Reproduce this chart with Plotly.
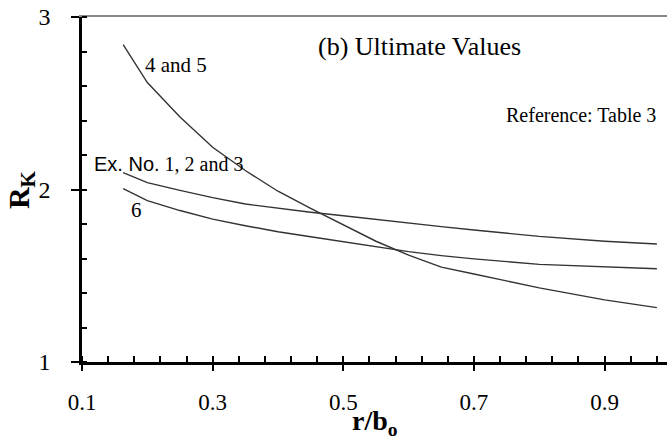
import plotly.graph_objects as go

# ---- data ----
r_b = [0.163, 0.2, 0.25, 0.3, 0.35, 0.4, 0.45, 0.5, 0.55, 0.6, 0.65, 0.7, 0.8, 0.9, 0.98]
rk_4_5 = [2.84, 2.62, 2.42, 2.245, 2.11, 1.99, 1.89, 1.795, 1.70, 1.62, 1.55, 1.51, 1.43, 1.36, 1.315]
rk_1_2_3 = [2.098, 2.04, 1.995, 1.953, 1.916, 1.89, 1.868, 1.848, 1.826, 1.805, 1.785, 1.765, 1.728, 1.70, 1.684]
rk_6 = [2.005, 1.935, 1.878, 1.828, 1.79, 1.755, 1.726, 1.698, 1.668, 1.64, 1.617, 1.598, 1.566, 1.55, 1.541]

x_tickvals = [0.1, 0.3, 0.5, 0.7, 0.9]
x_ticktext = ["0.1", "0.3", "0.5", "0.7", "0.9"]
y_tickvals = [1, 2, 3]
y_ticktext = ["1", "2", "3"]

SERIF = "Liberation Serif"
SANS = "Liberation Sans"
LINE = "#333333"

fig = go.Figure()
for ys in (rk_4_5, rk_1_2_3, rk_6):
    fig.add_trace(go.Scatter(x=r_b, y=ys, mode="lines",
                             line=dict(color=LINE, width=1.4),
                             showlegend=False, hoverinfo="skip"))
# invisible helper traces so the overlay axes (top border, crossing ticks) are drawn
for ax in ("x2", "x3"):
    fig.add_trace(go.Scatter(x=r_b, y=rk_6, mode="lines", xaxis=ax,
                             line=dict(color="rgba(0,0,0,0)", width=0),
                             showlegend=False, hoverinfo="skip"))

xr = [0.1, 0.9955]
fig.update_layout(
    width=667, height=439,
    margin=dict(l=82, r=0, t=17, b=77),
    paper_bgcolor="white", plot_bgcolor="white",
    font=dict(family=SERIF, color="black"),
    xaxis=dict(range=xr, showgrid=False, zeroline=False,
               showline=True, linecolor="black", linewidth=2.5,
               tickmode="array", tickvals=x_tickvals, ticktext=x_ticktext,
               ticks="outside", ticklen=6, tickwidth=1.5, tickcolor="black",
               tickfont=dict(family=SERIF, size=23, color="black"),
               ticklabelstandoff=12,
               minor=dict(ticks="inside", ticklen=6, tickwidth=1.5,
                          tickcolor="black", dtick=0.04, tick0=0.1, showgrid=False)),
    xaxis2=dict(range=xr, overlaying="x", side="top", showgrid=False, zeroline=False,
                showline=True, linecolor="#888888", linewidth=1.5,
                showticklabels=False, ticks=""),
    xaxis3=dict(range=xr, overlaying="x", side="bottom", anchor="y", showgrid=False,
                zeroline=False, showline=False, showticklabels=False,
                tickmode="array", tickvals=x_tickvals,
                ticks="inside", ticklen=6, tickwidth=1.5, tickcolor="black"),
    yaxis=dict(range=[1, 3], showgrid=False, zeroline=False,
               showline=True, linecolor="black", linewidth=2.5,
               tickmode="array", tickvals=y_tickvals, ticktext=y_ticktext,
               ticks="outside", ticklen=8, tickwidth=1.5, tickcolor="black",
               tickfont=dict(family=SERIF, size=24, color="black"),
               ticklabelstandoff=16,
               minor=dict(ticks="inside", ticklen=5, tickwidth=1.5,
                          tickcolor="black", dtick=0.2, tick0=1, showgrid=False)),
)

ann = [
    dict(x=0.193, y=2.72, text="4 and 5", xanchor="left", yanchor="middle",
         font=dict(family=SERIF, size=21)),
    dict(x=0.115, y=2.146,
         text="<span style=\"font-family:Liberation Sans\">Ex. No.</span> 1, 2 and 3",
         xanchor="left", yanchor="middle", font=dict(family=SERIF, size=20)),
    dict(x=0.184, y=1.882, text="6", xanchor="center", yanchor="middle",
         font=dict(family=SERIF, size=21)),
    dict(x=0.458, y=2.83, text="(b) Ultimate Values", xanchor="left", yanchor="middle",
         font=dict(family=SERIF, size=26)),
    dict(x=0.982, y=2.43, text="Reference: Table 3", xanchor="right", yanchor="middle",
         font=dict(family=SERIF, size=20)),
]
for a in ann:
    a.update(xref="x", yref="y", showarrow=False)
    fig.add_annotation(**a)

# axis titles
fig.add_annotation(x=0.5, xref="paper", y=-0.175, yref="paper",
                   text="<b>r/b<sub>o</sub></b>", showarrow=False,
                   xanchor="center", yanchor="middle",
                   font=dict(family=SERIF, size=28, color="black"))
fig.add_annotation(x=-0.105, xref="paper", y=0.5, yref="paper",
                   text="<b>R<sub>K</sub></b>", showarrow=False, textangle=-90,
                   xanchor="center", yanchor="middle",
                   font=dict(family=SERIF, size=30, color="black"))

fig.write_html("out.html")
